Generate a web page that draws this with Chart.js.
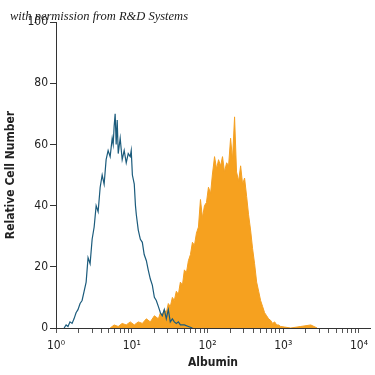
<!DOCTYPE html>
<html>
<head>
<meta charset="utf-8">
<script src="https://cdn.jsdelivr.net/npm/chart.js"></script>
<style>
  html, body { margin: 0; padding: 0; background: #fff; }
  #wrap { position: relative; width: 375px; height: 375px; }
  #note {
    position: absolute; left: 10px; top: 9px;
    font: italic 12.5px "Liberation Serif", "DejaVu Serif", serif;
    color: #1a1a1a; white-space: nowrap; z-index: 2;
  }
</style>
</head>
<body>
<div id="wrap">
  <div id="note">with permission from R&amp;D Systems</div>
  <canvas id="chart" width="375" height="375"></canvas>
</div>
<script>
// isotype control (outline)
const blueIntensity = [1.28, 1.36, 1.44, 1.53, 1.63, 1.73, 1.84, 1.95, 2.08, 2.21, 2.35, 2.50, 2.65, 2.82, 3.00,
  3.19, 3.39, 3.60, 3.83, 4.07, 4.32, 4.59, 4.88, 5.19, 5.52, 5.69, 5.86, 6.04, 6.23, 6.43, 6.63, 7.04, 7.48,
  7.95, 8.46, 8.99, 9.55, 9.85, 10.2, 10.8, 11.2, 11.5, 12.2, 13.0, 13.8, 14.6, 15.6, 16.5, 17.6, 18.7, 19.9,
  21.1, 22.5, 23.9, 25.3, 26.9, 28.6, 30.4, 32.3, 34.4, 36.5, 38.8, 41.3, 43.9, 49.6, 56.0, 63.3];
const blueCount = [0, 1, 0.5, 2, 1.5, 3, 5, 6, 8, 9, 12, 15, 23, 21, 29,
  33, 40, 38, 46, 50, 47, 55, 58, 56, 62, 60, 66, 70, 60, 68, 57, 62, 55,
  58, 54, 57, 56, 58, 50, 47, 40, 37, 32, 29, 28, 24, 22, 19, 16, 14, 10,
  9, 7, 5, 4, 6, 3, 6, 2, 3, 2, 1.5, 2, 1, 1, 0.5, 0];

// Albumin stained (filled)
const orangeIntensity = [5.19, 5.86, 6.63, 7.48, 8.46, 9.55, 10.8, 12.2, 13.8, 15.6, 17.6, 19.9, 22.5, 23.9,
  25.3, 26.9, 28.6, 30.4, 32.3, 34.4, 36.5, 38.8, 41.3, 43.9, 46.7, 49.6, 52.7, 56.0, 59.6, 63.3, 67.3, 71.5,
  76.0, 80.8, 85.9, 91.3, 97.0, 103, 110, 116, 124, 132, 140, 149, 158, 168, 179, 190, 202, 214, 228, 242,
  258, 274, 291, 309, 329, 349, 371, 394, 419, 446, 474, 503, 535, 568, 604, 642, 682, 726, 771, 820, 871,
  926, 1047, 1257, 1706, 2313, 2800];
const orangeCount = [0, 1, 0.5, 1.5, 1, 2, 1, 2, 1.5, 3, 2, 4, 3, 5,
  4, 6, 5, 8, 7, 10, 9, 12, 11, 15, 14, 19, 18, 22, 24, 28, 27, 31,
  33, 42, 36, 40, 41, 46, 44, 50, 56, 52, 55, 53, 56, 51, 54, 53, 62, 55, 69, 51,
  48, 53, 47, 49, 43, 37, 32, 26, 21, 15, 12, 9, 7, 5, 4, 3, 2.5, 1.5, 2, 1, 1,
  0.5, 0.3, 0, 0.5, 1, 0];

const xTickValues = [1, 2, 3, 4, 5, 6, 7, 8, 9, 10, 20, 30, 40, 50, 60, 70, 80, 90,
  100, 200, 300, 400, 500, 600, 700, 800, 900, 1000, 2000, 3000, 4000, 5000, 6000, 7000, 8000, 9000, 10000];
const xTickLabels = { 1: '10⁰', 10: '10¹', 100: '10²', 1000: '10³', 10000: '10⁴' };

const tickFont = { family: "'Liberation Sans Narrow', 'DejaVu Sans Condensed', 'Liberation Sans', sans-serif", size: 12 };
const titleFont = { family: "'Liberation Sans Narrow', 'DejaVu Sans Condensed', 'Liberation Sans', sans-serif", size: 12, weight: 'bold' };

const blueData = blueIntensity.map((v, i) => ({ x: v, y: blueCount[i] }));
const orangeData = orangeIntensity.map((v, i) => ({ x: v, y: orangeCount[i] }));

new Chart(document.getElementById('chart'), {
  type: 'line',
  data: {
    datasets: [
      {
        label: 'Isotype control',
        data: blueData,
        borderColor: '#1b5b7c',
        borderWidth: 1.2,
        pointRadius: 0,
        fill: false,
        tension: 0,
        order: 0
      },
      {
        label: 'Albumin',
        data: orangeData,
        borderColor: '#f4a023',
        backgroundColor: '#f6a11f',
        borderWidth: 1,
        pointRadius: 0,
        fill: 'origin',
        tension: 0,
        order: 1
      }
    ]
  },
  options: {
    responsive: false,
    animation: false,
    layout: { padding: { top: 22, right: 5, left: 0, bottom: 0 } },
    plugins: { legend: { display: false }, tooltip: { enabled: false } },
    scales: {
      x: {
        type: 'logarithmic',
        min: 1,
        max: 14000,
        afterFit: s => { s.height = 47; },
        afterBuildTicks: s => { s.ticks = xTickValues.map(v => ({ value: v })); },
        border: { color: '#333', width: 1 },
        grid: { drawOnChartArea: false, tickLength: 5, color: '#555' },
        ticks: {
          autoSkip: false, maxRotation: 0, padding: 6, color: '#222', font: tickFont,
          callback: v => xTickLabels[v] || ''
        },
        title: { display: true, text: 'Albumin', color: '#222', font: titleFont, padding: { top: 2, bottom: 5 } }
      },
      y: {
        min: 0,
        max: 100,
        afterFit: s => { s.width = 56; },
        border: { color: '#333', width: 1 },
        grid: { drawOnChartArea: false, tickLength: 6, color: '#333' },
        ticks: { stepSize: 20, padding: 2, color: '#222', font: tickFont },
        title: { display: true, text: 'Relative Cell Number', color: '#222', font: titleFont, padding: { top: 4, bottom: 0 } }
      }
    }
  }
});
</script>
</body>
</html>
